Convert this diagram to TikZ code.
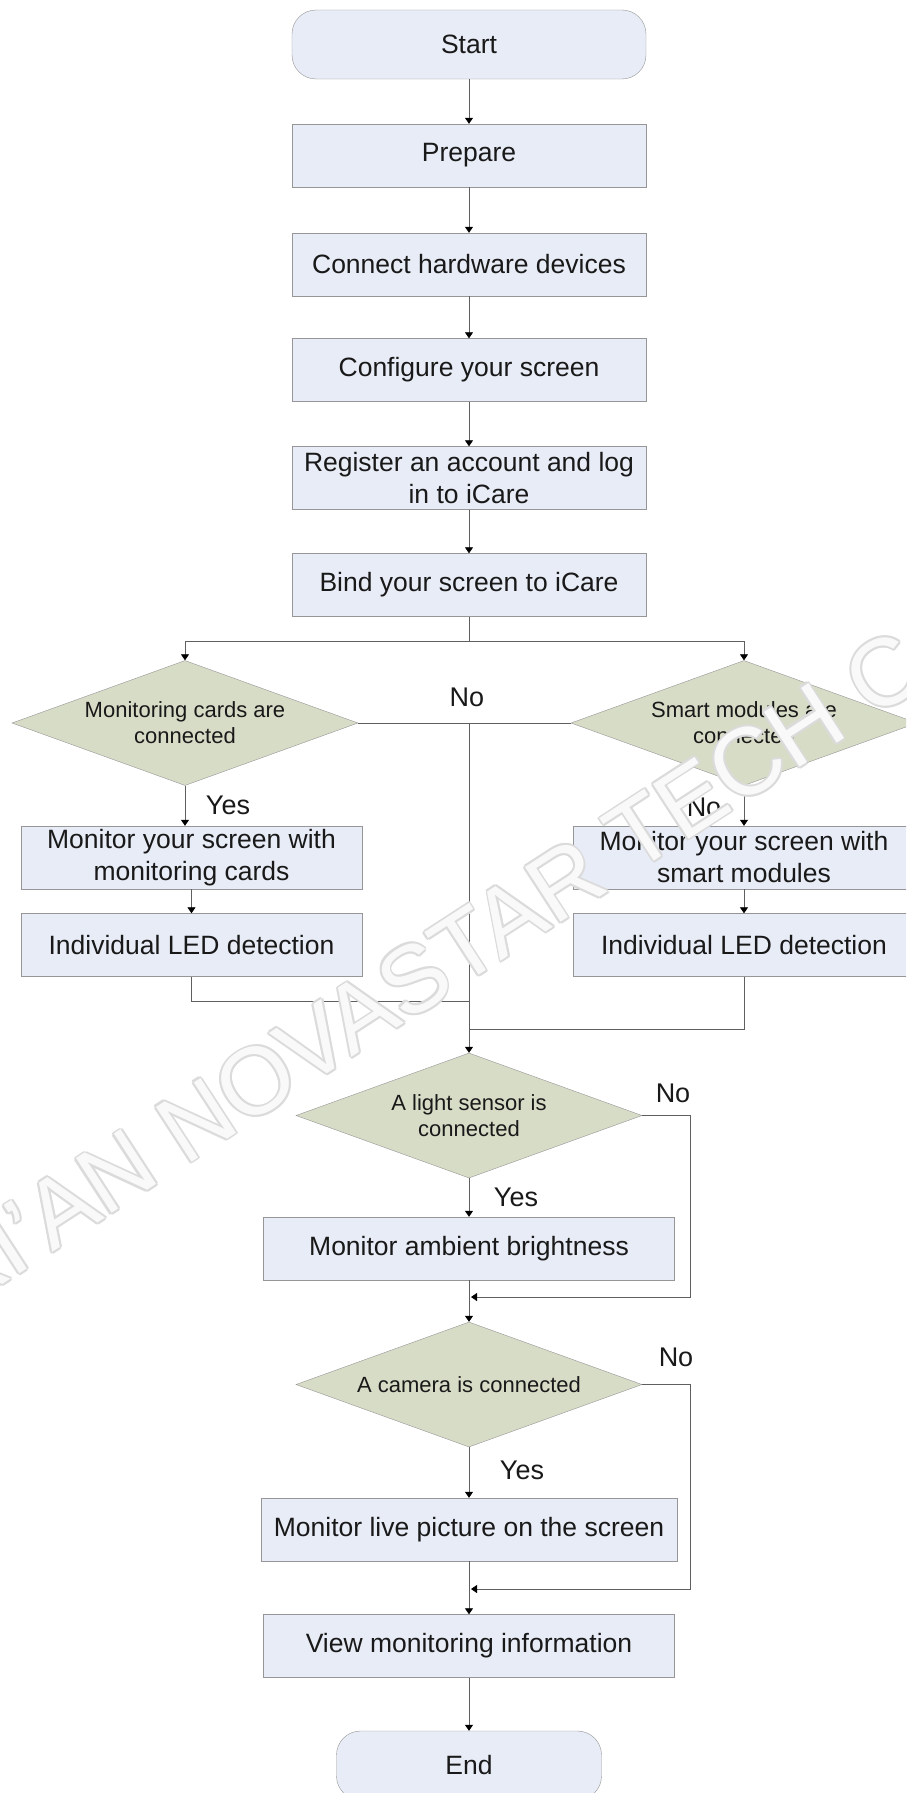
\documentclass[tikz,border=0pt]{standalone}
\usepackage{fontspec}
\setmainfont{Liberation Sans}
\usetikzlibrary{shapes.geometric,arrows.meta}

\definecolor{boxfill}{RGB}{232,236,246}
\definecolor{decfill}{RGB}{215,220,199}
\definecolor{edgegray}{RGB}{150,150,150}
\definecolor{linegray}{RGB}{95,95,95}

\begin{document}
\begin{tikzpicture}[x=1pt,y=-1pt,
  stepbox/.style={draw=edgegray,fill=boxfill,minimum width=354pt,minimum height=63pt,
    inner sep=0pt,align=center,text=black!90,font=\fontsize{26.5}{32}\selectfont},
  term/.style={stepbox,rounded corners=24pt,minimum height=69pt},
  decide/.style={diamond,aspect=2.77,draw=edgegray,fill=decfill,inner sep=0pt,minimum width=346pt,
    minimum height=125pt,align=center,text=black!90,font=\fontsize{22}{26}\selectfont},
  lbl/.style={text=black!90,font=\fontsize{27}{32}\selectfont},
  link/.style={draw=linegray,line width=0.8pt},
  flow/.style={link,-{Triangle[width=8pt,length=6pt,color=black]}},
  wmark/.style={rotate=33,font=\fontsize{95}{95}\selectfont}]

\useasboundingbox (0,0) rectangle (906,1793);
\fill[white] (0,0) rectangle (906,1793);
\clip (0,0) rectangle (906,1793);

% ---- main column ----
\node[term] (start) at (469,44.5) {Start};
\node[stepbox] (prep) at (469,155.5) {Prepare};
\node[stepbox] (hw) at (469,264.5) {Connect hardware devices};
\node[stepbox] (cfg) at (469,370) {Configure your screen};
\node[stepbox] (reg) at (469,478) {Register an account and log\\in to iCare};
\node[stepbox] (bind) at (469,585) {Bind your screen to iCare};

% ---- two monitoring branches ----
\node[decide] (cards) at (185,723) {Monitoring cards are\\connected};
\node[decide] (mods) at (744,723) {Smart modules are\\connected};
\node[stepbox,minimum width=341pt] (moncards) at (191.5,857.5) {Monitor your screen with\\monitoring cards};
\node[stepbox,minimum width=341pt] (ledl) at (191.5,945) {Individual LED detection};
\node[stepbox,minimum width=341pt] (monmods) at (744,857.5) {Monitor your screen with\\smart modules};
\node[stepbox,minimum width=341pt] (ledr) at (744,945) {Individual LED detection};

% ---- sensor and camera ----
\node[decide] (sensor) at (469,1115.5) {A light sensor is\\connected};
\node[stepbox,minimum width=411pt] (bright) at (469,1248.5) {Monitor ambient brightness};
\node[decide] (camera) at (469,1384.5) {A camera is connected};
\node[stepbox,minimum width=416pt] (live) at (469,1529.5) {Monitor live picture on the screen};
\node[stepbox,minimum width=411pt] (view) at (469,1646) {View monitoring information};
\node[term,minimum width=265pt] (end) at (469,1765.5) {End};

% ---- branch labels ----
\node[lbl] (nomid) at (467,697) {No};
\node[lbl] (yescards) at (228,805) {Yes};
\node[lbl] (nomods) at (704,807) {No};
\node[lbl] (nosensor) at (673,1093) {No};
\node[lbl] (yessensor) at (516,1197) {Yes};
\node[lbl] (nocamera) at (676,1357) {No};
\node[lbl] (yescamera) at (522,1470) {Yes};

% ---- bends and joins ----
\coordinate (split) at (469,641);
\coordinate (nojoin) at (469,723);
\coordinate (mergeL) at (469,1001);
\coordinate (mergeR) at (469,1029);
\coordinate (bendA) at (690,1297);
\coordinate (joinA) at (471,1297);
\coordinate (bendB) at (690,1589);
\coordinate (joinB) at (471,1589);

% ---- connectors ----
\draw[flow] (start) -- (prep);
\draw[flow] (prep) -- (hw);
\draw[flow] (hw) -- (cfg);
\draw[flow] (cfg) -- (reg);
\draw[flow] (reg) -- (bind);
\draw[link] (bind) -- (split);
\draw[flow] (split) -| (cards.north);
\draw[flow] (split) -| (mods.north);
\draw[link] (cards.east) -- (mods.west);
\draw[flow] (nojoin) -- (sensor.north);
\draw[flow] (cards.south) -- (cards.south |- moncards.north);
\draw[flow] (moncards) -- (ledl);
\draw[flow] (mods) -- (monmods);
\draw[flow] (monmods) -- (ledr);
\draw[link] (ledl) |- (mergeL);
\draw[link] (ledr) |- (mergeR);
\draw[flow] (sensor) -- (bright);
\draw[flow] (sensor.east) -| (bendA) -- (joinA);
\draw[flow] (bright) -- (camera);
\draw[flow] (camera) -- (live);
\draw[flow] (camera.east) -| (bendB) -- (joinB);
\draw[flow] (live) -- (view);
\draw[flow] (view) -- (end);

% ---- watermark ----
\coordinate (wmc) at (458,950);
\foreach \dx/\dy [count=\i] in {2/0,-2/0,0/2,0/-2,1.4/1.4,-1.4/1.4,1.4/-1.4,-1.4/-1.4}
  \node[wmark,text=black!14,xshift=\dx pt,yshift=\dy pt] (wm\i) at (wmc) {XI'AN NOVASTAR TECH CO};
\node[wmark,text=white,text opacity=0.85] (wm) at (wmc) {XI'AN NOVASTAR TECH CO};

\end{tikzpicture}
\end{document}
